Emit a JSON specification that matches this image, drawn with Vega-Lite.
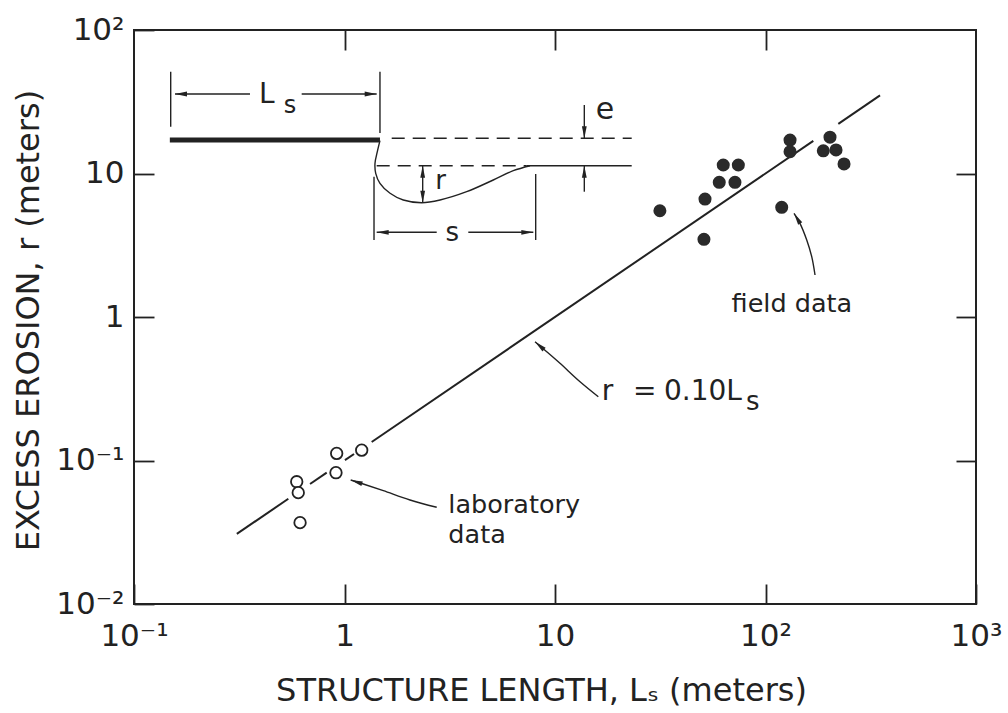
{
  "$schema": "https://vega.github.io/schema/vega-lite/v6.json",
  "width": 842,
  "height": 574,
  "autosize": {"type": "none"},
  "padding": {"left": 134, "top": 30, "right": 32, "bottom": 109},
  "background": "white",
  "config": {
    "font": "DejaVu Sans",
    "view": {"stroke": "#222", "strokeWidth": 2},
    "axis": {"grid": false, "domain": false, "labelColor": "#222", "titleColor": "#222", "tickColor": "#222", "tickWidth": 1.8, "labelFontSize": 31, "titleFontSize": 32, "titleFontWeight": "normal", "labelFlush": false, "labelOverlap": false}
  },
  "datasets": {
    "line": [
      {"seg": 1, "i": 1, "Ls": 0.308, "r": 0.0308}, {"seg": 1, "i": 2, "Ls": 0.541, "r": 0.0541},
      {"seg": 2, "i": 1, "Ls": 0.686, "r": 0.0686}, {"seg": 2, "i": 2, "Ls": 0.823, "r": 0.0823},
      {"seg": 3, "i": 1, "Ls": 1.005, "r": 0.1005}, {"seg": 3, "i": 2, "Ls": 1.11, "r": 0.111},
      {"seg": 4, "i": 1, "Ls": 1.346, "r": 0.1346}, {"seg": 4, "i": 2, "Ls": 168.7, "r": 16.87},
      {"seg": 5, "i": 1, "Ls": 221.8, "r": 22.18}, {"seg": 5, "i": 2, "Ls": 350, "r": 35}
    ],
    "field": [
      {"Ls": 31.5, "r": 5.5}, {"Ls": 51.6, "r": 6.64}, {"Ls": 51.0, "r": 3.48}, {"Ls": 60.3, "r": 8.68},
      {"Ls": 71.6, "r": 8.68}, {"Ls": 63.0, "r": 11.46}, {"Ls": 74.3, "r": 11.46}, {"Ls": 119.4, "r": 5.81},
      {"Ls": 130.8, "r": 17.1}, {"Ls": 130.8, "r": 14.2}, {"Ls": 202.5, "r": 17.9}, {"Ls": 188.2, "r": 14.4},
      {"Ls": 216.3, "r": 14.6}, {"Ls": 236.1, "r": 11.65}
    ],
    "lab": [
      {"Ls": 0.593, "r": 0.0711}, {"Ls": 0.603, "r": 0.0597}, {"Ls": 0.615, "r": 0.0369},
      {"Ls": 0.918, "r": 0.112}, {"Ls": 0.911, "r": 0.0822}, {"Ls": 1.207, "r": 0.118}
    ],
    "solid": [
      {"id": "ls_lv", "i": 1, "Ls": 0.1494, "r": 51.2}, {"id": "ls_lv", "i": 2, "Ls": 0.1494, "r": 21.19},
      {"id": "ls_rv", "i": 1, "Ls": 1.474, "r": 51.2}, {"id": "ls_rv", "i": 2, "Ls": 1.474, "r": 19.15},
      {"id": "ls_la", "i": 1, "Ls": 0.1566, "r": 35.8}, {"id": "ls_la", "i": 2, "Ls": 0.3556, "r": 35.8},
      {"id": "ls_ra", "i": 1, "Ls": 0.626, "r": 35.8}, {"id": "ls_ra", "i": 2, "Ls": 1.422, "r": 35.8},
      {"id": "s_lv", "i": 1, "Ls": 1.381, "r": 9.5}, {"id": "s_lv", "i": 2, "Ls": 1.381, "r": 3.44},
      {"id": "s_rv", "i": 1, "Ls": 8.096, "r": 9.92}, {"id": "s_rv", "i": 2, "Ls": 8.096, "r": 3.44},
      {"id": "s_la", "i": 1, "Ls": 1.422, "r": 3.892}, {"id": "s_la", "i": 2, "Ls": 2.742, "r": 3.892},
      {"id": "s_ra", "i": 1, "Ls": 3.874, "r": 3.892}, {"id": "s_ra", "i": 2, "Ls": 7.889, "r": 3.892},
      {"id": "r_ar", "i": 1, "Ls": 2.352, "r": 11.33}, {"id": "r_ar", "i": 2, "Ls": 2.352, "r": 6.258},
      {"id": "e_dn", "i": 1, "Ls": 13.78, "r": 30.02}, {"id": "e_dn", "i": 2, "Ls": 13.78, "r": 17.59},
      {"id": "e_up", "i": 1, "Ls": 13.78, "r": 7.467}, {"id": "e_up", "i": 2, "Ls": 13.78, "r": 11.33},
      {"id": "base", "i": 1, "Ls": 7.337, "r": 11.33}, {"id": "base", "i": 2, "Ls": 23.14, "r": 11.33},
      {"id": "curve", "i": 1, "Ls": 1.474, "r": 16.93}, {"id": "curve", "i": 2, "Ls": 1.432, "r": 14.19},
      {"id": "curve", "i": 3, "Ls": 1.396, "r": 11.78}, {"id": "curve", "i": 4, "Ls": 1.407, "r": 10.03},
      {"id": "curve", "i": 5, "Ls": 1.474, "r": 8.545}, {"id": "curve", "i": 6, "Ls": 1.646, "r": 7.278},
      {"id": "curve", "i": 7, "Ls": 1.902, "r": 6.536}, {"id": "curve", "i": 8, "Ls": 2.326, "r": 6.258},
      {"id": "curve", "i": 9, "Ls": 2.843, "r": 6.536}, {"id": "curve", "i": 10, "Ls": 3.806, "r": 7.467},
      {"id": "curve", "i": 11, "Ls": 5.09, "r": 9.01}, {"id": "curve", "i": 12, "Ls": 6.338, "r": 10.46},
      {"id": "curve", "i": 13, "Ls": 7.606, "r": 11.33},
      {"id": "fa", "i": 1, "Ls": 171.9, "r": 1.962}, {"id": "fa", "i": 2, "Ls": 165.8, "r": 2.632},
      {"id": "fa", "i": 3, "Ls": 157.0, "r": 3.44}, {"id": "fa", "i": 4, "Ls": 145.8, "r": 4.495},
      {"id": "fa", "i": 5, "Ls": 136.6, "r": 5.28},
      {"id": "la", "i": 1, "Ls": 2.742, "r": 0.04719}, {"id": "la", "i": 2, "Ls": 2.047, "r": 0.05305},
      {"id": "la", "i": 3, "Ls": 1.529, "r": 0.06159}, {"id": "la", "i": 4, "Ls": 1.228, "r": 0.06859},
      {"id": "la", "i": 5, "Ls": 1.07, "r": 0.0731},
      {"id": "ra", "i": 1, "Ls": 16.06, "r": 0.2784}, {"id": "ra", "i": 2, "Ls": 13.15, "r": 0.354},
      {"id": "ra", "i": 3, "Ls": 10.56, "r": 0.4759}, {"id": "ra", "i": 4, "Ls": 9.134, "r": 0.5732},
      {"id": "ra", "i": 5, "Ls": 8.035, "r": 0.6728}
    ],
    "dashed": [
      {"id": "up", "i": 1, "Ls": 1.676, "r": 17.59}, {"id": "up", "i": 2, "Ls": 23.14, "r": 17.59},
      {"id": "low", "i": 1, "Ls": 1.422, "r": 11.33}, {"id": "low", "i": 2, "Ls": 7.337, "r": 11.33}
    ],
    "bar": [
      {"Ls": 0.148, "r": 17.12}, {"Ls": 1.474, "r": 17.12}
    ],
    "heads": [
      {"Ls": 0.1566, "r": 35.8, "ang": 270}, {"Ls": 1.422, "r": 35.8, "ang": 90},
      {"Ls": 1.422, "r": 3.892, "ang": 270}, {"Ls": 7.889, "r": 3.892, "ang": 90},
      {"Ls": 2.352, "r": 11.33, "ang": 0}, {"Ls": 2.352, "r": 6.258, "ang": 180},
      {"Ls": 13.78, "r": 17.59, "ang": 180}, {"Ls": 13.78, "r": 11.33, "ang": 0},
      {"Ls": 136.6, "r": 5.28, "ang": 329}, {"Ls": 1.07, "r": 0.0731, "ang": 288},
      {"Ls": 8.035, "r": 0.6728, "ang": 311}
    ],
    "notes": [
      {"label": "laboratory", "Ls": 3.113, "r": 0.04285},
      {"label": "data", "Ls": 3.113, "r": 0.02675},
      {"label": "field data", "Ls": 69.0, "r": 1.089}
    ],
    "eq": [
      {"label": "r", "Ls": 16.67, "r": 0.264},
      {"label": "=", "Ls": 23.47, "r": 0.264},
      {"label": "0.10L", "Ls": 32.95, "r": 0.264}
    ],
    "eqsub": [{"label": "s", "Ls": 80.8, "r": 0.2249}],
    "diagL": [{"label": "L", "Ls": 0.4269, "r": 35.24}],
    "diagLs": [{"label": "s", "Ls": 0.551, "r": 29.53}],
    "diagE": [{"label": "e", "Ls": 17.28, "r": 27.7}],
    "diagRS": [{"label": "r", "Ls": 2.864, "r": 8.865}, {"label": "s", "Ls": 3.252, "r": 3.831}]
  },
  "encoding": {
    "x": {"field": "Ls", "type": "quantitative", "scale": {"type": "log", "domain": [0.1, 1000], "nice": false}, "axis": null},
    "y": {"field": "r", "type": "quantitative", "scale": {"type": "log", "domain": [0.01, 100], "nice": false}, "axis": null}
  },
  "layer": [
    {
      "data": {"name": "line"},
      "mark": {"type": "line", "stroke": "#222", "strokeWidth": 2},
      "encoding": {
        "x": {"field": "Ls", "type": "quantitative", "scale": {"type": "log", "domain": [0.1, 1000], "nice": false},
          "axis": {"orient": "bottom", "values": [0.1, 1, 10, 100, 1000], "tickSize": -20, "labelPadding": 37,
            "labelExpr": "datum.value < 0.5 ? '10⁻¹' : datum.value < 5 ? '1' : datum.value < 50 ? '10' : datum.value < 500 ? '10²' : '10³'",
            "title": "STRUCTURE LENGTH, Lₛ (meters)", "titleX": 407, "titleY": 86, "titleBaseline": "middle", "titleAlign": "center"}},
        "y": {"field": "r", "type": "quantitative", "scale": {"type": "log", "domain": [0.01, 100], "nice": false},
          "axis": {"orient": "left", "values": [0.01, 0.1, 1, 10, 100], "tickSize": -20, "labelPadding": 30,
            "labelExpr": "datum.value < 0.05 ? '10⁻²' : datum.value < 0.5 ? '10⁻¹' : datum.value < 5 ? '1' : datum.value < 50 ? '10' : '10²'",
            "title": "EXCESS EROSION, r (meters)", "titleX": -106, "titleY": 290, "titleBaseline": "middle", "titleAlign": "center", "titleAngle": -90}},
        "detail": {"field": "seg"},
        "order": {"field": "i"}
      }
    },
    {
      "data": {"name": "field"},
      "mark": {"type": "point", "shape": "circle", "filled": true, "size": 170, "color": "#2a2a2a", "opacity": 1},
      "encoding": {
        "x": {"field": "Ls", "type": "quantitative", "scale": {"type": "log", "domain": [0.1, 1000], "nice": false},
          "axis": {"orient": "top", "values": [1, 10, 100], "tickSize": -20, "labels": false, "title": null}},
        "y": {"field": "r", "type": "quantitative", "scale": {"type": "log", "domain": [0.01, 100], "nice": false},
          "axis": {"orient": "right", "values": [0.1, 1, 10], "tickSize": -20, "labels": false, "title": null}}
      }
    },
    {
      "data": {"name": "lab"},
      "mark": {"type": "point", "shape": "circle", "filled": false, "fill": "white", "fillOpacity": 1, "size": 132, "stroke": "#222", "strokeWidth": 1.8, "opacity": 1}
    },
    {
      "data": {"name": "solid"},
      "mark": {"type": "line", "stroke": "#222", "strokeWidth": 1.4, "interpolate": "catmull-rom"},
      "encoding": {"detail": {"field": "id"}, "order": {"field": "i"}}
    },
    {
      "data": {"name": "dashed"},
      "mark": {"type": "line", "stroke": "#222", "strokeWidth": 1.4, "strokeDash": [13, 8]},
      "encoding": {"detail": {"field": "id"}, "order": {"field": "i"}}
    },
    {
      "data": {"name": "bar"},
      "mark": {"type": "line", "stroke": "#222", "strokeWidth": 5, "strokeCap": "butt"},
      "encoding": {}
    },
    {
      "data": {"name": "heads"},
      "mark": {"type": "point", "shape": "M0,0L0.4,2L-0.4,2Z", "filled": true, "size": 144, "color": "#222", "opacity": 1},
      "encoding": {"angle": {"field": "ang", "type": "quantitative", "scale": null}}
    },
    {
      "data": {"name": "notes"},
      "mark": {"type": "text", "fontSize": 25.5, "align": "left", "baseline": "alphabetic", "color": "#222"},
      "encoding": {"text": {"field": "label"}}
    },
    {
      "data": {"name": "eq"},
      "mark": {"type": "text", "fontSize": 28, "align": "left", "baseline": "alphabetic", "color": "#222"},
      "encoding": {"text": {"field": "label"}}
    },
    {
      "data": {"name": "eqsub"},
      "mark": {"type": "text", "fontSize": 26, "align": "left", "baseline": "alphabetic", "color": "#222"},
      "encoding": {"text": {"field": "label"}}
    },
    {
      "data": {"name": "diagL"},
      "mark": {"type": "text", "fontSize": 28, "align": "center", "baseline": "middle", "color": "#222"},
      "encoding": {"text": {"field": "label"}}
    },
    {
      "data": {"name": "diagLs"},
      "mark": {"type": "text", "fontSize": 24, "align": "center", "baseline": "middle", "color": "#222"},
      "encoding": {"text": {"field": "label"}}
    },
    {
      "data": {"name": "diagE"},
      "mark": {"type": "text", "fontSize": 30, "align": "center", "baseline": "middle", "color": "#222"},
      "encoding": {"text": {"field": "label"}}
    },
    {
      "data": {"name": "diagRS"},
      "mark": {"type": "text", "fontSize": 26, "align": "center", "baseline": "middle", "color": "#222"},
      "encoding": {"text": {"field": "label"}}
    }
  ],
  "resolve": {"axis": {"x": "independent", "y": "independent"}}
}
